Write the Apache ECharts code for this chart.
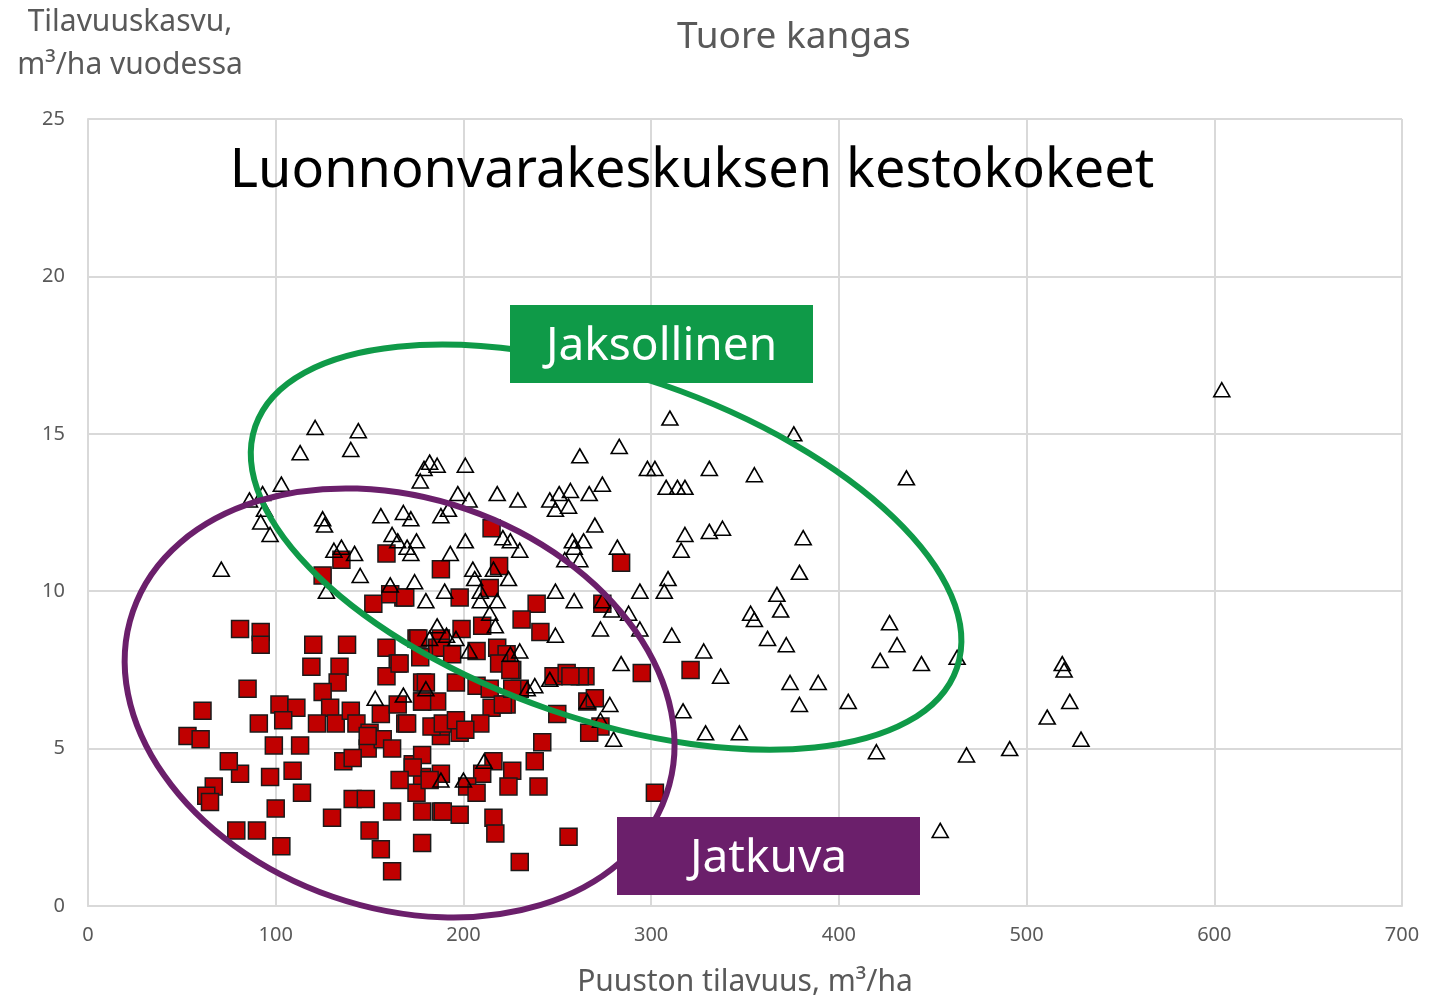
<!DOCTYPE html>
<html>
<head>
<meta charset="utf-8">
<style>
  html, body { margin: 0; padding: 0; background: #fff; }
  #chart { width: 1439px; height: 997px; }
</style>
<script src="https://cdn.jsdelivr.net/npm/echarts@6/dist/echarts.min.js"></script>
</head>
<body>
<div id="chart"></div>
<script>
// Jaksollinen (periodic cover) plots: [volume m3/ha, growth m3/ha/yr]
var jaksollinen = [
  [71,10.7],[86,12.9],[93,13.1],[103,13.4],[94,12.6],[92,12.2],[97,11.8],[113,14.4],[121,15.2],[144,15.1],
  [140,14.5],[125,12.3],[126,12.1],[135,11.4],[142,11.2],[131,11.3],[145,10.5],[127,10.0],[156,12.4],[162,11.8],
  [168,12.5],[172,12.3],[165,11.6],[170,11.4],[175,11.6],[172,11.2],[174,10.3],[180,9.7],[161,10.2],[177,13.5],
  [179,13.9],[182,14.1],[186,14.0],[188,12.4],[192,12.6],[197,13.1],[201,14.0],[203,12.9],[201,11.6],[193,11.2],
  [205,10.7],[206,10.4],[209,9.7],[190,10.0],[186,8.9],[191,8.6],[196,8.5],[203,8.1],[209,10.0],[216,10.7],
  [218,13.1],[221,11.7],[225,11.6],[230,11.3],[229,12.9],[224,10.4],[214,9.3],[217,8.9],[218,9.7],[230,8.1],
  [234,6.9],[246,12.9],[249,12.6],[251,13.1],[257,13.2],[256,12.7],[258,11.6],[259,11.4],[262,14.3],[264,11.6],
  [270,12.1],[267,13.1],[274,13.4],[283,14.6],[298,13.9],[302,13.9],[310,15.5],[308,13.3],[314,13.3],[318,13.3],
  [318,11.8],[316,11.3],[309,10.4],[307,10.0],[311,8.6],[294,8.8],[288,9.3],[273,8.8],[259,9.7],[262,11.0],
  [254,11.0],[249,10.0],[274,9.7],[279,9.4],[284,7.7],[278,6.4],[280,5.3],[273,5.9],[246,7.2],[238,7.0],
  [266,6.5],[294,10.0],[331,13.9],[355,13.7],[331,11.9],[338,12.0],[317,6.2],[328,8.1],[337,7.3],[329,5.5],
  [347,5.5],[353,9.3],[355,9.1],[362,8.5],[367,9.9],[369,9.4],[372,8.3],[374,7.1],[379,10.6],[381,11.7],
  [376,15.0],[389,7.1],[379,6.4],[405,6.5],[420,4.9],[422,7.8],[427,9.0],[431,8.3],[444,7.7],[436,13.6],
  [463,7.9],[454,2.4],[468,4.8],[491,5.0],[511,6.0],[519,7.7],[520,7.5],[523,6.5],[529,5.3],[604,16.4],
  [153,6.6],[180,6.9],[182,8.5],[225,8.0],[188,4.0],[200,4.0],[211,4.6],[168,6.7],[249,8.6],[282,11.4]
];

// Jatkuva (continuous cover) plots
var jatkuva = [
  [81,8.8],[92,8.7],[92,8.3],[120,8.3],[138,8.3],[119,7.6],[134,7.6],[133,7.1],[159,8.2],[165,7.7],
  [159,7.3],[85,6.9],[125,6.8],[129,6.3],[102,6.4],[111,6.3],[104,5.9],[61,6.2],[53,5.4],[60,5.3],
  [91,5.8],[122,5.8],[132,5.8],[140,6.2],[143,5.8],[150,5.5],[156,6.1],[165,6.4],[169,5.8],[149,5.0],
  [157,5.3],[162,5.0],[173,4.5],[178,4.8],[188,5.4],[178,4.1],[188,4.2],[188,3.0],[178,3.0],[162,3.0],
  [150,2.4],[156,1.8],[162,1.1],[178,2.0],[130,2.8],[141,3.4],[148,3.4],[136,4.6],[141,4.7],[114,3.6],
  [100,3.1],[109,4.3],[97,4.1],[81,4.2],[75,4.6],[67,3.8],[63,3.5],[65,3.3],[79,2.4],[90,2.4],
  [103,1.9],[113,5.1],[99,5.1],[175,8.5],[186,8.2],[178,7.1],[178,6.5],[186,6.5],[149,5.4],[188,5.7],
  [168,9.8],[198,9.8],[214,10.1],[239,9.6],[231,9.1],[241,8.7],[199,8.8],[210,8.9],[176,8.5],[188,8.5],
  [177,7.9],[188,8.2],[194,8.0],[207,8.1],[218,8.2],[223,8.0],[219,7.7],[226,7.5],[166,7.7],[180,7.1],
  [196,7.1],[207,7.0],[214,6.9],[230,6.9],[178,6.5],[215,6.3],[223,6.4],[248,7.3],[255,7.4],[265,7.3],
  [266,6.5],[270,6.6],[250,6.1],[273,5.7],[267,5.5],[170,5.8],[183,5.7],[189,5.8],[198,5.5],[209,5.8],
  [242,5.2],[238,4.6],[240,3.8],[226,4.3],[224,3.8],[216,4.6],[210,4.2],[202,3.8],[207,3.6],[198,2.9],
  [189,3.0],[175,3.6],[173,4.4],[166,4.0],[182,4.0],[216,2.8],[217,2.3],[256,2.2],[230,1.4],[302,3.6],
  [295,7.4],[321,7.5],[274,9.6],[215,12.0],[188,10.7],[219,10.8],[284,10.9],[135,11.0],[159,11.2],[125,10.5],
  [152,9.6],[161,9.9],[169,9.8],[262,7.3],[257,7.3],[196,5.9],[201,5.6],[221,6.4],[226,6.9],[225,7.5]
];

var xMin = 0, xMax = 700, xStep = 100;
var yMin = 0, yMax = 25, yStep = 5;

// annotation ellipses: centre in data units, radii in px, tilt in degrees
var groupJaksollinen = { center: [276, 11.4], rx: 371, ry: 172, tilt: 19 };
var groupJatkuva = { center: [166, 6.45], rx: 282, ry: 205, tilt: 19 };

var fontFamily = '"Noto Sans", "Open Sans", sans-serif';
var gray = '#595959';

var chart = echarts.init(document.getElementById('chart'));

var option = {
  backgroundColor: '#fff',
  animation: false,
  title: [{
    text: 'Tuore kangas',
    left: 672, top: 14,
    textStyle: { fontFamily: fontFamily, fontSize: 37, fontWeight: 'normal', color: gray }
  }, {
    text: 'Luonnonvarakeskuksen kestokokeet',
    left: 687, top: 140, textAlign: 'center',
    textStyle: { fontFamily: fontFamily, fontSize: 54, fontWeight: 'normal', color: '#000' }
  }],
  grid: { left: 88, right: 37, top: 119, bottom: 91, containLabel: false, outerBoundsMode: 'none' },
  xAxis: {
    type: 'value', min: xMin, max: xMax, interval: xStep,
    name: 'Puuston tilavuus, m³/ha',
    nameLocation: 'middle', nameGap: 61,
    nameTextStyle: { fontFamily: fontFamily, fontSize: 30, color: gray },
    axisLine: { show: true, lineStyle: { color: '#d9d9d9', width: 2 } },
    axisTick: { show: false },
    axisLabel: { margin: 19, fontFamily: fontFamily, fontSize: 20, color: gray },
    splitLine: { show: true, lineStyle: { color: '#d9d9d9', width: 2 } }
  },
  yAxis: {
    type: 'value', min: yMin, max: yMax, interval: yStep,
    name: 'Tilavuuskasvu,\nm³/ha vuodessa',
    nameLocation: 'end', nameGap: 32,
    nameTextStyle: { fontFamily: fontFamily, fontSize: 30, color: gray, align: 'center',
      lineHeight: 43, padding: [0, 0, 0, 84] },
    axisLine: { show: true, lineStyle: { color: '#d9d9d9', width: 2 } },
    axisTick: { show: false },
    axisLabel: { margin: 23, fontFamily: fontFamily, fontSize: 20, color: gray },
    splitLine: { show: true, lineStyle: { color: '#d9d9d9', width: 2 } }
  },
  series: [{
    name: 'Jatkuva',
    type: 'scatter',
    symbol: 'rect',
    symbolSize: 17,
    z: 2,
    itemStyle: { color: '#c00000', borderColor: '#1a1a1a', borderWidth: 1.5, opacity: 1 },
    data: jatkuva
  }, {
    name: 'Jaksollinen',
    type: 'scatter',
    symbol: 'triangle',
    symbolSize: [16, 14],
    z: 3,
    itemStyle: { color: 'rgba(255,255,255,0)', borderColor: '#000', borderWidth: 1.6, opacity: 1 },
    data: jaksollinen
  }]
};

chart.setOption(option);

function ellipseEl(g, color) {
  var p = chart.convertToPixel({ gridIndex: 0 }, g.center);
  return {
    type: 'ellipse',
    x: p[0], y: p[1],
    rotation: -g.tilt * Math.PI / 180,
    shape: { cx: 0, cy: 0, rx: g.rx, ry: g.ry },
    style: { fill: null, stroke: color, lineWidth: 6 },
    z: 100
  };
}

function labelBox(x, y, w, h, text, bg) {
  return {
    type: 'group', x: x, y: y, z: 110,
    children: [{
      type: 'rect', shape: { x: 0, y: 0, width: w, height: h },
      style: { fill: bg }, z: 110
    }, {
      type: 'text', x: w / 2, y: h / 2 + 3, z: 111,
      style: { text: text, fill: '#fff', font: '46px ' + fontFamily,
        textAlign: 'center', textVerticalAlign: 'middle' }
    }]
  };
}

chart.setOption({
  graphic: [
    ellipseEl(groupJaksollinen, '#0f9a48'),
    ellipseEl(groupJatkuva, '#6b1f6b'),
    labelBox(510, 305, 303, 78, 'Jaksollinen', '#0f9a48'),
    labelBox(617, 817, 303, 78, 'Jatkuva', '#6b1f6b')
  ]
});

window.onresize = function () {
  chart.resize();
};
</script>
</body>
</html>
